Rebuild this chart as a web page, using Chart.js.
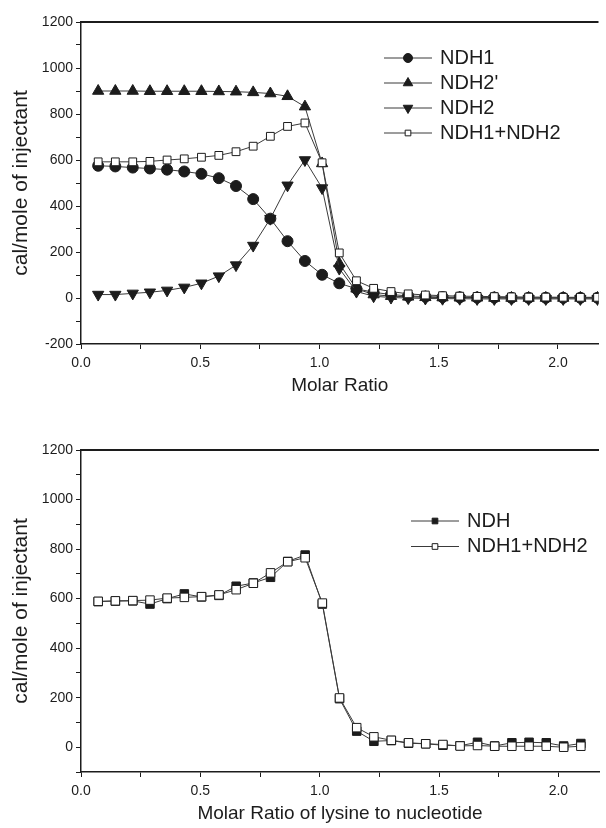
<!DOCTYPE html>
<html>
<head>
<meta charset="utf-8">
<title>ITC titration</title>
<script src="https://cdn.jsdelivr.net/npm/chart.js@4.4.1/dist/chart.umd.min.js"></script>
<style>
  html, body { margin: 0; padding: 0; background: #fff; overflow: hidden; }
  #wrap { position: relative; width: 606px; height: 828px; }
  .panel { position: absolute; left: 0; width: 606px; }
  #top { top: 0; height: 400px; }
  #bottom { top: 420px; height: 408px; }
</style>
</head>
<body>
<div id="wrap">
  <div class="panel" id="top"><canvas id="chartTop"></canvas></div>
  <div class="panel" id="bottom"><canvas id="chartBottom"></canvas></div>
</div>
<script>
// injection points (molar ratio), same for every series
const molarRatio = [0.072, 0.144, 0.217, 0.289, 0.361, 0.433, 0.505, 0.578, 0.650, 0.722,
                    0.794, 0.866, 0.939, 1.011, 1.083, 1.155, 1.227, 1.300, 1.372, 1.444,
                    1.516, 1.588, 1.661, 1.733, 1.805, 1.877, 1.949, 2.022, 2.094, 2.166];

// top panel
const ndh1      = [575, 572, 567, 563, 558, 550, 540, 521, 487, 430, 345, 247, 161, 101, 64, 40, 25, 15, 9, 6, 4, 3, 2, 2, 1, 1, 1, 1, 1, 1];
const ndh2prime = [900, 900, 900, 899, 899, 899, 899, 898, 897, 894, 889, 877, 832, 585, 150, 40, 15, 8, 5, 3, 2, 1, 1, 0, 0, 0, 0, 0, 0, 0];
const ndh2      = [15, 15, 20, 25, 33, 46, 64, 95, 143, 228, 345, 490, 600, 478, 128, 28, 8, 2, 0, -2, -3, -3, -4, -4, -4, -4, -4, -4, -4, -4];
const ndh1ndh2  = [592, 592, 592, 594, 600, 605, 612, 620, 636, 660, 703, 746, 761, 588, 196, 75, 42, 28, 18, 13, 10, 8, 7, 6, 5, 4, 4, 3, 3, 3];

// bottom panel (29 injections visible)
const ndhMeasured = [588, 590, 591, 578, 600, 619, 607, 613, 650, 663, 686, 750, 776, 578, 196, 65, 24, 27, 16, 14, 8, 6, 20, 5, 18, 20, 18, 5, 15];
const ndhSum      = [589, 591, 592, 594, 602, 605, 608, 615, 636, 662, 704, 749, 765, 582, 199, 79, 42, 28, 18, 14, 11, 5, 7, 4, 4, 4, 4, 0, 4];

const xMajorTicks = [0, 0.5, 1.0, 1.5, 2.0];
const yMajorStep = 200;

const ink = '#1c1c1c';
const family = '"Liberation Sans", Arial, Helvetica, sans-serif';

const pts = (ys) => ys.map((y, i) => ({ x: molarRatio[i], y }));

function series(label, ys, style, extra) {
  return Object.assign({
    label,
    data: pts(ys),
    borderColor: '#3a3a3a',
    borderWidth: 1,
    pointStyle: style,
    pointRadius: 5,
    pointBackgroundColor: ink,
    pointBorderColor: ink,
    pointBorderWidth: 1,
    tension: 0
  }, extra || {});
}

// top frame line + legend of "line-marker-line  label"
const frameAndLegend = {
  id: 'frameAndLegend',
  afterDraw(chart, args, opts) {
    const ctx = chart.ctx;
    const a = chart.chartArea;
    ctx.save();
    ctx.strokeStyle = ink;
    ctx.lineWidth = 2;
    ctx.beginPath();
    ctx.moveTo(a.left, a.top);
    ctx.lineTo(a.right, a.top);
    ctx.stroke();

    ctx.font = opts.fontSize + 'px ' + family;
    ctx.textBaseline = 'middle';
    chart.data.datasets.forEach((ds, i) => {
      const y = opts.y + i * opts.gap;
      ctx.strokeStyle = '#3a3a3a';
      ctx.lineWidth = 1;
      ctx.beginPath();
      ctx.moveTo(opts.x, y);
      ctx.lineTo(opts.x + opts.len, y);
      ctx.stroke();
      ctx.fillStyle = ds.pointBackgroundColor;
      ctx.strokeStyle = ds.pointBorderColor;
      ctx.lineWidth = 1;
      Chart.helpers.drawPoint(ctx, {
        pointStyle: ds.pointStyle,
        rotation: ds.pointRotation || 0,
        radius: ds.legendRadius || ds.pointRadius,
        borderWidth: 1
      }, opts.x + opts.len / 2, y);
      ctx.fillStyle = ink;
      ctx.fillText(ds.label, opts.x + opts.len + 8, y);
    });
    ctx.restore();
  }
};

function scales(yMin, yMax, xMax, xTitle) {
  return {
    x: {
      type: 'linear', min: 0, max: xMax,
      border: { display: true, color: ink, width: 1.5 },
      grid: { drawOnChartArea: false, drawTicks: true, tickLength: 5, color: ink, tickColor: ink },
      ticks: {
        stepSize: 0.25, includeBounds: false, autoSkip: false, maxRotation: 0, padding: 6,
        color: ink, font: { size: 14, family },
        callback: v => xMajorTicks.some(m => Math.abs(m - v) < 1e-6) ? v.toFixed(1) : ''
      },
      title: { display: true, text: xTitle, color: ink, font: { size: 19, family }, padding: { top: 0, bottom: 3 } },
      afterFit: s => { s.height = 56; }
    },
    y: {
      min: yMin, max: yMax,
      border: { display: true, color: ink, width: 1.5 },
      grid: { drawOnChartArea: false, drawTicks: true, tickLength: 5, color: ink, tickColor: ink },
      ticks: {
        stepSize: 100, autoSkip: false, padding: 3,
        color: ink, font: { size: 14, family },
        callback: v => v % yMajorStep === 0 ? String(v) : ''
      },
      title: { display: true, text: 'cal/mole of injectant', color: ink, font: { size: 21, family }, padding: { top: 9, bottom: 0 } },
      afterFit: s => { s.width = 81; }
    }
  };
}

new Chart(document.getElementById('chartTop'), {
  type: 'line',
  data: {
    datasets: [
      series('NDH1', ndh1, 'circle', { pointRadius: 5.5, legendRadius: 4.5, order: 3 }),
      series("NDH2'", ndh2prime, 'triangle', { pointRadius: 6.5, legendRadius: 5.5, order: 4 }),
      series('NDH2', ndh2, 'triangle', { pointRadius: 6.5, legendRadius: 5.5, pointRotation: 180, order: 2 }),
      series('NDH1+NDH2', ndh1ndh2, 'rect', { pointRadius: 5.5, pointBackgroundColor: '#fff', legendRadius: 4, order: 1 })
    ]
  },
  options: {
    responsive: true, maintainAspectRatio: false, animation: false,
    layout: { padding: { top: 22, right: 0, bottom: 0, left: 0 } },
    plugins: {
      legend: { display: false }, tooltip: { enabled: false },
      frameAndLegend: { x: 384, y: 58, gap: 25, len: 48, fontSize: 20 }
    },
    scales: scales(-200, 1200, 2.17, 'Molar Ratio')
  },
  plugins: [frameAndLegend]
});

new Chart(document.getElementById('chartBottom'), {
  type: 'line',
  data: {
    datasets: [
      series('NDH', ndhMeasured, 'rect', { pointRadius: 6, legendRadius: 4, order: 2 }),
      series('NDH1+NDH2', ndhSum, 'rect', { pointRadius: 6, pointBackgroundColor: '#fff', legendRadius: 4, order: 1 })
    ]
  },
  options: {
    responsive: true, maintainAspectRatio: false, animation: false,
    layout: { padding: { top: 30, right: 0, bottom: 0, left: 0 } },
    plugins: {
      legend: { display: false }, tooltip: { enabled: false },
      frameAndLegend: { x: 411, y: 101, gap: 25.5, len: 48, fontSize: 20 }
    },
    scales: scales(-100, 1200, 2.17, 'Molar Ratio of lysine to nucleotide')
  },
  plugins: [frameAndLegend]
});
</script>
</body>
</html>
